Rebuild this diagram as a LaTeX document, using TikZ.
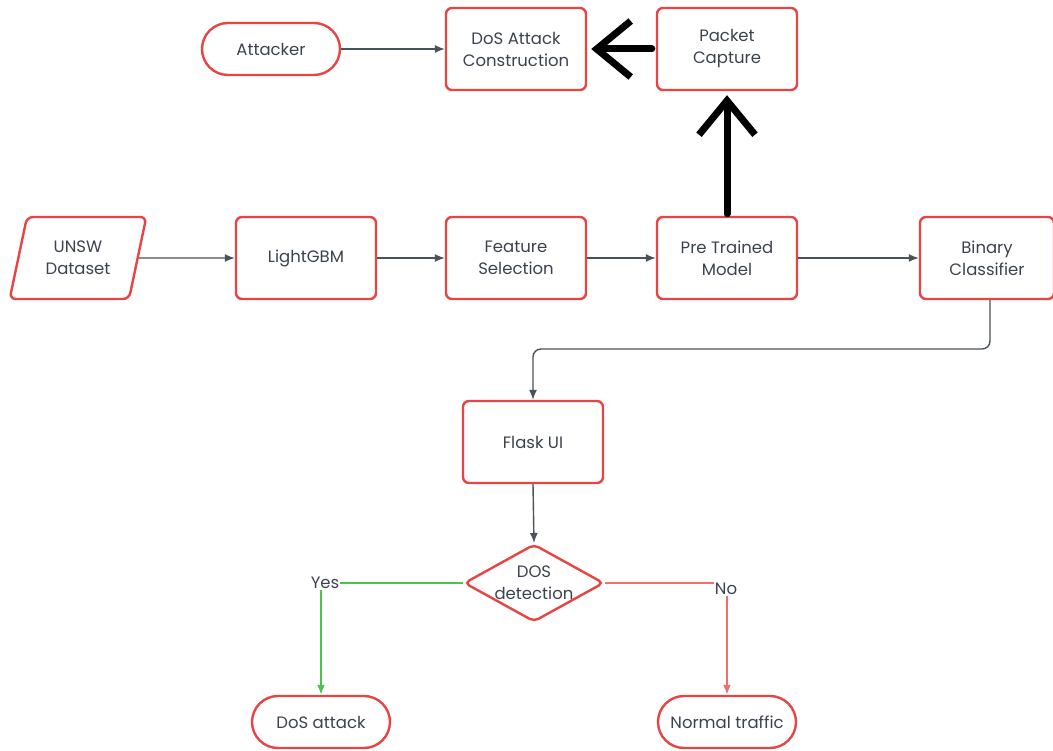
\documentclass[tikz,border=0pt]{standalone}
\usepackage{fontspec}
\setmainfont{Poppins}
\usetikzlibrary{arrows.meta,shapes.geometric,shapes.misc,calc}
\definecolor{boxred}{HTML}{E94444}
\definecolor{txt}{HTML}{3C434D}
\definecolor{ln}{HTML}{4A525C}
\definecolor{gr}{HTML}{4CC44C}
\definecolor{lred}{HTML}{F07070}
\tikzset{
  base/.style={draw=boxred,line width=2.4pt,fill=white,text=txt,font=\fontsize{16.5}{22}\selectfont,align=center,inner sep=0pt},
  procbox/.style={base,rectangle,rounded corners=6pt,minimum width=140pt,minimum height=82pt},
  termbox/.style={base,rounded rectangle,minimum width=138pt,minimum height=52pt},
  iobox/.style={base,trapezium,trapezium left angle=72,trapezium right angle=108,minimum width=137pt,minimum height=82pt,rounded corners=6pt,trapezium stretches=true},
  decbox/.style={base,diamond,aspect=1.8,minimum width=138pt,minimum height=77pt,rounded corners=5pt},
  conn/.style={draw=ln,line width=1.4pt,-{Latex[length=10pt,width=8pt]}},
  thick/.style={draw=black,line width=7pt,line cap=round,-{Straight Barb[length=34pt,width=56pt,line width=7pt]}},
  lbl/.style={text=txt,fill=white,inner sep=1pt,font=\fontsize{16.5}{20}\selectfont},
}
\begin{document}
\begin{tikzpicture}[x=1pt,y=-1pt]
\useasboundingbox (0,0) rectangle (1053,751);
\node[termbox] (att) at (271,49) {Attacker};
\node[procbox] (dac) at (516,49) {DoS Attack\\Construction};
\node[procbox] (pc) at (727,49) {Packet\\Capture};
\node[iobox] (unsw) at (78,258) {UNSW\\Dataset};
\node[procbox] (lgbm) at (306,258) {LightGBM};
\node[procbox] (fs) at (516,258) {Feature\\Selection};
\node[procbox] (ptm) at (727,258) {Pre Trained\\Model};
\node[procbox,minimum width=134pt] (bc) at (987,258) {Binary\\Classifier};
\node[procbox] (flask) at (533,442) {Flask UI};
\node[decbox] (dec) at (534,583) {DOS\\detection};
\node[termbox] (dosa) at (321,722) {DoS attack};
\node[termbox] (norm) at (727,722) {Normal traffic};

\draw[conn] (att.east) -- (dac.west);
\draw[conn] (unsw.east) -- (lgbm.west);
\draw[conn] (lgbm.east) -- (fs.west);
\draw[conn] (fs.east) -- (ptm.west);
\draw[conn] (ptm.east) -- (bc.west);
\draw[conn,rounded corners=8pt] (bc.south -| 990,0) -- (990,349) -- (533,349) -- (flask.north);
\draw[conn] (flask.south) -- (dec.north);
\draw[draw=gr,line width=1.8pt,-{Latex[length=10pt,width=8pt]}] (dec.west) -- (321,583) -- (dosa.north);
\draw[draw=lred,line width=1.8pt,-{Latex[length=10pt,width=8pt]}] (dec.east) -- (727,583) -- (norm.north);
\node[lbl] (yes) at (325,583) {Yes};
\node[lbl] (no) at (726,589) {No};

\draw[thick] ($(pc.west)+(-4,0)$) -- ($(dac.east)+(4,0)$);
\draw[thick] ($(ptm.north)+(0,-2)$) -- ($(pc.south)+(0,4)$);
\end{tikzpicture}
\end{document}
